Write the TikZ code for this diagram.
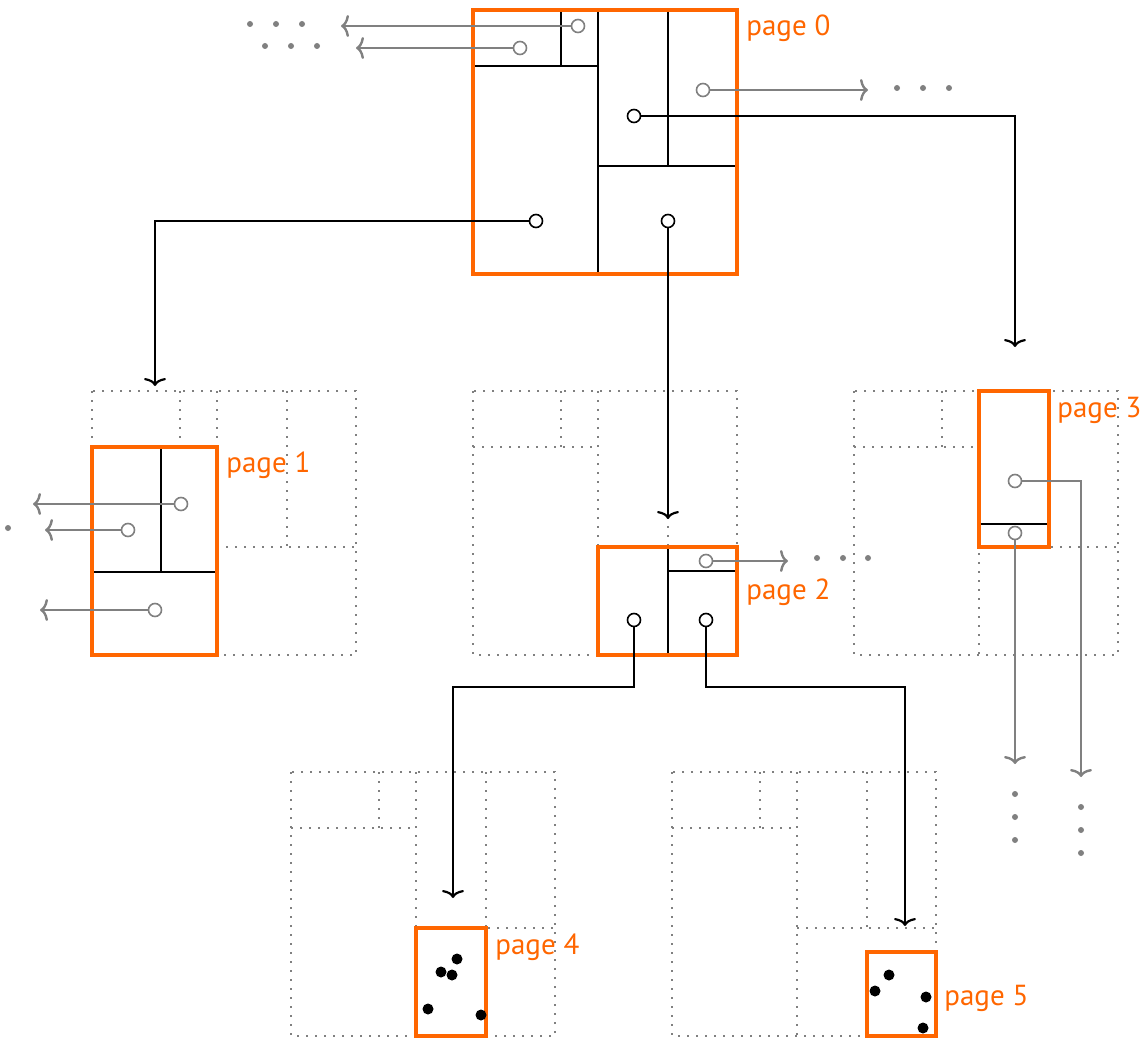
\documentclass[tikz,border=0pt]{standalone}
\usepackage{fontspec}
\setmainfont{PT Sans}
\usetikzlibrary{arrows.meta}
\definecolor{pageorange}{RGB}{255,102,0}
\definecolor{linkgray}{RGB}{128,128,128}
\tikzset{
	pagebox/.style={draw=pageorange, line width=2pt},
	cell/.style={draw=black, line width=1.1pt},
	ghost/.style={draw=linkgray, line width=1.1pt, dash pattern=on 1.1pt off 3.4pt},
	pt/.style={circle, draw, line width=0.8pt, inner sep=0pt, minimum size=6.5pt},
	gpt/.style={pt, draw=linkgray},
	link/.style={draw, line width=1.1pt, -{To[length=4pt, width=11pt]}},
	glink/.style={link, draw=linkgray, line width=1.2pt},
	pagelabel/.style={text=pageorange, font=\fontsize{14.5}{17}\selectfont, anchor=west, inner sep=0pt},
}
\begin{document}
\begin{tikzpicture}[x=0.5pt, y=-0.5pt]
			\useasboundingbox (0,0) rectangle (1141,1038);
			\foreach \dx/\dy in {92/391, 473/391, 854/391, 291/772, 672/772}
				\draw[ghost, shift={(\dx,\dy)}] (0,0) rectangle (264,264) (125,0) -- (125,264) (0,56) -- (125,56) (88,0) -- (88,56) (195,0) -- (195,156) (125,156) -- (264,156);
			\draw[cell] (598,10) -- (598,274) (473,66) -- (598,66) (561,10) -- (561,66) (668,10) -- (668,166) (598,166) -- (737,166);
			\draw[pagebox] (473,10) rectangle (737,274);
			\draw[cell] (161,447) -- (161,572) (92,572) -- (217,572);
			\draw[pagebox] (92,447) rectangle (217,655);
			\draw[cell] (668,547) -- (668,655) (668,571) -- (737,571);
			\draw[pagebox] (598,547) rectangle (737,655);
			\draw[cell] (979,524) -- (1049,524);
			\draw[pagebox] (979,391) rectangle (1049,547);
			\draw[pagebox] (416,928) rectangle (486,1036);
			\foreach \p in {(457,959), (441,972), (452,975), (428,1009), (481,1015)}
				\fill \p circle (2.75pt);
			\draw[pagebox] (867,952) rectangle (936,1036);
			\foreach \p in {(889,975), (875,991), (926,997), (923,1028)}
				\fill \p circle (2.75pt);
			\node[pagelabel] (lbl0) at (746,28) {page 0};
			\node[pagelabel] (lbl1) at (226,465) {page 1};
			\node[pagelabel] (lbl2) at (746,592) {page 2};
			\node[pagelabel] (lbl3) at (1057,410) {page 3};
			\node[pagelabel] (lbl4) at (495,947) {page 4};
			\node[pagelabel] (lbl5) at (944,998) {page 5};
			\node[gpt] (q0a) at (578,26) {};
			\node[gpt] (q0b) at (520,48) {};
			\node[gpt] (q0c) at (703,90) {};
			\node[pt] (q0d) at (634,116) {};
			\node[pt] (q0e) at (536,221) {};
			\node[pt] (q0f) at (668,221) {};
			\node[gpt] (q1a) at (181,504) {};
			\node[gpt] (q1b) at (128,530) {};
			\node[gpt] (q1c) at (155,610) {};
			\node[gpt] (q2a) at (706,561) {};
			\node[pt] (q2b) at (634,620) {};
			\node[pt] (q2c) at (706,620) {};
			\node[gpt] (q3a) at (1015,481) {};
			\node[gpt] (q3b) at (1015,533) {};
			\coordinate (e0a) at (341,26);
			\coordinate (e0b) at (356,48);
			\coordinate (e0c) at (868,90);
			\coordinate (e1a) at (33,504);
			\coordinate (e1b) at (45,530);
			\coordinate (e1c) at (40,610);
			\coordinate (e2a) at (788,561);
			\coordinate (e3a) at (1081,777);
			\coordinate (e3b) at (1015,764);
			\coordinate (down1) at (155,386);
			\coordinate (down2) at (668,519);
			\coordinate (down3) at (1015,347);
			\coordinate (down4) at (453,898);
			\coordinate (down5) at (905,926);
			\coordinate (bend) at (0,687);
			\draw[glink] (q0a) -- (e0a);
			\draw[glink] (q0b) -- (e0b);
			\draw[glink] (q0c) -- (e0c);
			\draw[glink] (q1a) -- (e1a);
			\draw[glink] (q1b) -- (e1b);
			\draw[glink] (q1c) -- (e1c);
			\draw[glink] (q2a) -- (e2a);
			\draw[glink] (q3a) -| (e3a);
			\draw[glink] (q3b) -- (e3b);
			\draw[link] (q0e) -| (down1);
			\draw[link] (q0f) -- (down2);
			\draw[link] (q0d) -| (down3);
			\draw[link] (q2b) -- (q2b |- bend) -| (down4);
			\draw[link] (q2c) -- (q2c |- bend) -| (down5);
			\foreach \p in {(250,24), (276,24), (302,24), (265,46), (291,46), (317,46), (897,88), (923,88), (949,88), (817,558), (843,558), (868,558), (8,528), (1015,794), (1015,817), (1015,840), (1081,807), (1081,830), (1081,853)}
				\fill[linkgray] \p circle (1.5pt);
		\end{tikzpicture}
\end{document}
